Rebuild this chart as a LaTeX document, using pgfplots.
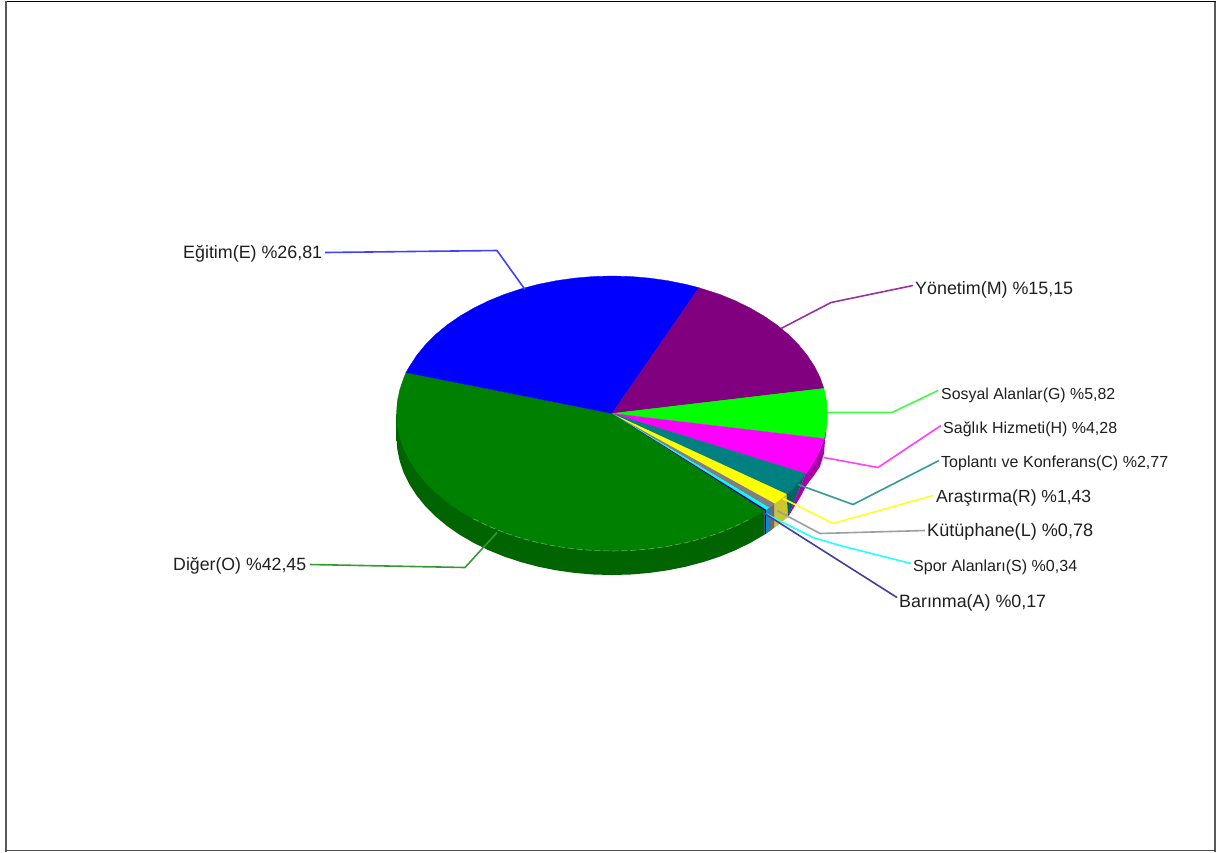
\documentclass[border=0pt]{standalone}
\usepackage{fontspec}
\setmainfont{Liberation Sans}
\usepackage{pgfplots}
\pgfplotsset{compat=1.18}

\definecolor{cGreen}{HTML}{008000}
\definecolor{cBlue}{HTML}{0000FF}
\definecolor{cPurple}{HTML}{800080}
\definecolor{cLime}{HTML}{00FF00}
\definecolor{cMagenta}{HTML}{FF00FF}
\definecolor{cTeal}{HTML}{008080}
\definecolor{cYellow}{HTML}{FFFF00}
\definecolor{cGray}{HTML}{808080}
\definecolor{cCyan}{HTML}{00FFFF}
\definecolor{cNavy}{HTML}{000080}
\definecolor{sideEnd}{HTML}{006400}
\definecolor{sideMid}{HTML}{008000}
\definecolor{sideMagenta}{HTML}{AA00AA}

% label with a fixed width in px (1pt = 1px here)
\newcommand{\lab}[4]{\node[anchor=base west,inner sep=0pt,text=black!88] at (axis cs:#1,#2) {\resizebox{#3pt}{!}{\fontsize{16}{18}\selectfont #4}};}

\begin{document}
\begin{tikzpicture}
\begin{axis}[
  scale only axis,
  width=1217pt,
  height=852pt,
  xmin=0, xmax=1217,
  ymin=0, ymax=852,
  y dir=reverse,
  ticks=none,
  axis line style={draw=none},
  clip=false,
  every axis plot/.append style={no markers,line join=round},
]
% background and frame
\addplot[fill=white,draw=none] coordinates {(0,0) (1217,0) (1217,852) (0,852)} --cycle;
\addplot[black,line width=1pt] coordinates {(5,1) (1216,1)};
\addplot[black!65,line width=2pt] coordinates {(6,0.5) (6,851)};
\addplot[black!65,line width=2pt] coordinates {(1215,1) (1215,851)};
\addplot[black!70,line width=1.6pt] coordinates {(5,850) (1216,850)};

% side walls
\addplot[draw=none,left color=sideEnd,middle color=sideMid,right color=sideEnd] coordinates {
  (396.5,413) (396.5,437) (397.3,449) (399.8,460.9) (403.8,472.6) (409.5,484) (416.7,495.1)
  (425.4,505.8) (435.5,515.9) (446.9,525.4) (459.6,534.2) (473.5,542.3) (488.4,549.6)
  (504.3,556.1) (520.9,561.6) (538.3,566.2) (556.2,569.8) (574.6,572.4) (593.2,574)
  (612,574.5) (630.8,574) (649.4,572.4) (667.8,569.8) (685.7,566.2) (703.1,561.6)
  (719.8,556.1) (735.6,549.6) (750.5,542.3) (764.5,534.1) (764.5,510.1)} --cycle;
\addplot[fill=cNavy,draw=none] coordinates {(764.5,510.1) (766,509.2) (766,533.2) (764.5,534.1)} --cycle;
\addplot[fill=cyan!70!blue,draw=none] coordinates {(766,509.2) (769,507.2) (769,531.2) (766,533.2)} --cycle;
\addplot[fill=black!58,draw=none] coordinates {(769,507.2) (774.5,503) (774.5,527) (769,531.2)} --cycle;
\addplot[fill=yellow!78!black,draw=none] coordinates {(774.5,503) (786.6,493.6) (788,516.5) (777.1,525.4) (774.5,527)} --cycle;
\addplot[fill=cTeal!78!black,draw=none] coordinates {(805.8,473.1) (786.6,493.6) (788,516.5)} --cycle;
\addplot[fill=sideMagenta,draw=none] coordinates {(823.9,438.1) (820.2,448.6) (814.5,460) (807.3,471.1) (805.8,473.1) (788,516.5) (800,497) (807,484) (814,475) (820,466) (824,453) (825,440)} --cycle;
\addplot[fill=green!50!black,draw=none] coordinates {(826.7,425) (824.2,436.9) (823.9,438.1) (825,440) (826,433)} --cycle;

% top face, one slice after the other
\addplot[fill=cGreen,draw=cGreen,line width=0.3pt] coordinates {
  (612,413) (406,372) (403.8,377.4) (399.8,389.1) (397.3,401) (396.5,413) (397.3,425) (399.8,436.9)
  (403.8,448.6) (409.5,460) (416.7,471.1) (425.4,481.8) (435.5,491.9) (446.9,501.4)
  (459.6,510.2) (473.5,518.3) (488.4,525.6) (504.3,532.1) (520.9,537.6) (538.3,542.2)
  (556.2,545.8) (574.6,548.4) (593.2,550) (612,550.5) (630.8,550) (649.4,548.4)
  (667.8,545.8) (685.7,542.2) (703.1,537.6) (719.8,532.1) (735.6,525.6) (750.5,518.3)
  (764.5,510.1)} --cycle;
\addplot[fill=cBlue,draw=cBlue,line width=0.3pt] coordinates {
  (612,413) (699,287.2) (685.7,283.8) (667.8,280.2) (649.4,277.6) (630.8,276) (612,275.5)
  (593.2,276) (574.6,277.6) (556.2,280.2) (538.3,283.8) (520.9,288.4) (504.3,293.9)
  (488.4,300.4) (473.5,307.7) (459.6,315.8) (446.9,324.6) (435.5,334.1) (425.4,344.3)
  (416.7,354.9) (409.5,366) (406,372)} --cycle;
\addplot[fill=cPurple,draw=cPurple,line width=0.3pt] coordinates {
  (612,413) (823.9,387.9) (820.2,377.4) (814.5,366) (807.3,354.9) (798.6,344.3) (788.5,334.1)
  (777.1,324.6) (764.4,315.8) (750.5,307.7) (735.6,300.4) (719.8,293.9) (699,287.2)} --cycle;
\addplot[fill=cLime,draw=cLime,line width=0.3pt] coordinates {
  (612,413) (823.9,438.1) (824.2,436.9) (826.7,425) (827.5,413) (826.7,401) (824.2,389.1) (823.9,387.9)} --cycle;
\addplot[fill=cMagenta,draw=cMagenta,line width=0.3pt] coordinates {
  (612,413) (805.8,473.1) (807.3,471.1) (814.5,460) (820.2,448.6) (823.9,438.1)} --cycle;
\addplot[fill=cTeal,draw=cTeal,line width=0.3pt] coordinates {
  (612,413) (786.6,493.6) (788.5,491.9) (798.6,481.8) (805.8,473.1)} --cycle;
\addplot[fill=cYellow,draw=none] coordinates {(612,413) (774.5,503) (777.1,501.4) (786.6,493.6)} --cycle;
\addplot[fill=cGray,draw=none] coordinates {(612,413) (769,507.2) (774.5,503)} --cycle;
\addplot[fill=cCyan,draw=none] coordinates {(612,413) (766,509.2) (769,507.2)} --cycle;
\addplot[fill=cNavy,draw=none] coordinates {(612,413) (764.5,510.1) (766,509.2)} --cycle;

% faint rim along the front of the top face
\addplot[white,opacity=0.4,line width=0.6pt,dash pattern=on 6pt off 3pt] coordinates {
  (473.5,518.3) (488.4,525.6) (504.3,532.1) (520.9,537.6) (538.3,542.2) (556.2,545.8)
  (574.6,548.4) (593.2,550) (612,550.5) (630.8,550) (649.4,548.4) (667.8,545.8)
  (685.7,542.2) (703.1,537.6) (719.8,532.1) (735.6,525.6) (750.5,518.3)};

% leader lines
\addplot[blue!75!white,line width=1.6pt] coordinates {(325,252) (497,250) (525,289)};
\addplot[cPurple!80!white,line width=1.6pt] coordinates {(781,328) (831,302) (913,285)};
\addplot[cLime!75!white,line width=1.6pt] coordinates {(827,412) (892,412) (938,390)};
\addplot[cMagenta!75!white,line width=1.6pt] coordinates {(824,457) (878,467) (941,425)};
\addplot[cTeal!80!white,line width=1.6pt] coordinates {(798,484) (853,504) (939,460)};
\addplot[cYellow!85!white,line width=1.6pt] coordinates {(783,498) (833,523) (933,495)};
\addplot[black!38,line width=1.6pt] coordinates {(777,510) (820,533) (925,530)};
\addplot[cCyan!85!white,line width=1.6pt] coordinates {(765,513) (813,537) (840,545) (911,563)};
\addplot[cNavy!75!white,line width=1.6pt] coordinates {(763,512) (897,597)};
\addplot[cGreen!80!white,line width=1.6pt] coordinates {(310,564) (465,567) (497,532)};

% labels
\lab{183}{258}{139}{Eğitim(E) \%26,81}
\lab{915}{294}{158}{Yönetim(M) \%15,15}
\lab{941}{399}{174}{Sosyal Alanlar(G) \%5,82}
\lab{943}{433}{174}{Sağlık Hizmeti(H) \%4,28}
\lab{941}{467}{227}{Toplantı ve Konferans(C) \%2,77}
\lab{936}{502}{155}{Araştırma(R) \%1,43}
\lab{927}{536}{166}{Kütüphane(L) \%0,78}
\lab{913}{571}{164}{Spor Alanları(S) \%0,34}
\lab{899}{607}{147}{Barınma(A) \%0,17}
\lab{173}{570}{133}{Diğer(O) \%42,45}
\end{axis}
\end{tikzpicture}
\end{document}
